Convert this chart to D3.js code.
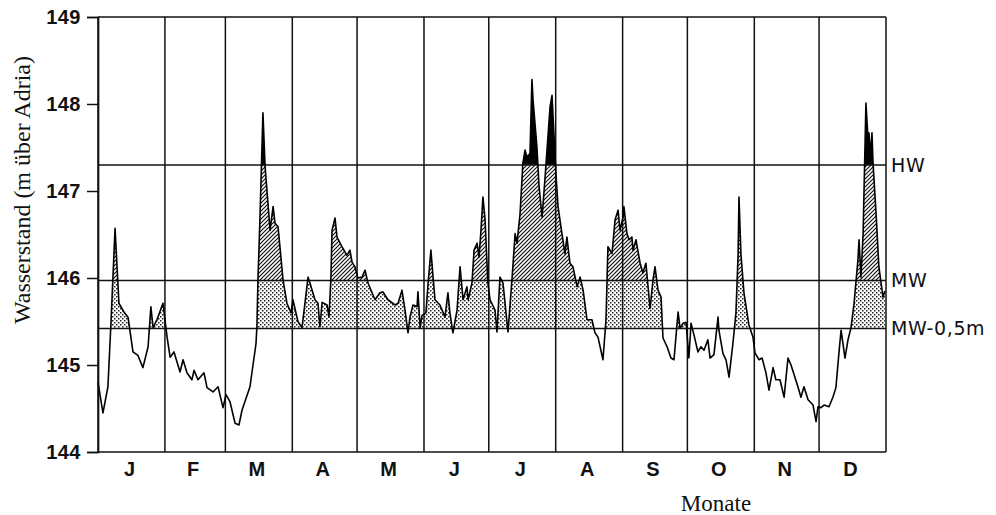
<!DOCTYPE html>
<html>
<head>
<meta charset="utf-8">
<script src="https://cdn.jsdelivr.net/npm/d3@7"></script>
<style>
  body { margin: 0; background: #fff; }
  svg { display: block; }
</style>
</head>
<body>
<div id="chart"></div>
<script>
// day of year (0..365) and water level (m above Adria)
const days = [
  0, 2.3, 4.6, 6.0, 7.9, 9.7, 12.0, 13.9, 16.2, 18.5, 20.8, 23.2, 24.5, 25.5, 27.3, 30.1,
  32.0, 33.4, 35.2, 38.0, 39.4, 41.2, 43.5, 44.5, 46.3, 49.1, 50.5, 53.3, 55.6, 57.9, 59.3,
  61.1, 63.5, 65.3, 66.7, 70.4, 73.2, 73.6, 74.1, 75.0, 76.4, 77.4, 79.7, 81.1, 82.0, 83.4,
  85.7, 87.5, 89.4, 90.3, 92.6, 94.5, 97.3, 98.2, 100.5, 101.9, 102.8, 103.8, 106.1, 107.0,
  107.9, 108.4, 109.8, 110.7, 113.0, 115.3, 116.7, 117.7, 119.0, 120.4, 122.3, 123.7, 125.1,
  128.3, 130.6, 132.0, 134.3, 137.6, 139.0, 140.8, 142.2, 143.6, 144.5, 145.9, 147.8, 148.2,
  149.2, 150.1, 151.9, 152.9, 154.2, 155.2, 156.1, 158.4, 160.7, 162.1, 163.0, 164.4, 166.3,
  167.7, 169.1, 170.9, 171.4, 173.2, 174.2, 175.6, 176.5, 177.4, 178.3, 179.3, 180.6, 181.6,
  183.9, 184.8, 186.2, 187.6, 189.0, 189.9, 191.8, 193.2, 194.1, 195.5, 196.8, 197.8, 198.7,
  200.1, 201.0, 201.5, 203.3, 204.3, 205.7, 207.0, 209.4, 210.3, 210.8, 212.1, 213.1, 214.9,
  216.3, 217.2, 218.6, 220.0, 221.9, 223.3, 224.7, 226.5, 228.8, 230.2, 231.6, 233.9, 235.3,
  236.2, 238.1, 239.5, 240.9, 241.8, 243.2, 243.6, 245.0, 246.0, 247.3, 247.8, 249.2, 251.1,
  252.4, 253.8, 255.7, 257.1, 258.0, 259.4, 260.8, 261.7, 263.6, 265.4, 266.8, 268.7, 269.6,
  271.0, 272.4, 273.7, 274.7, 276.1, 277.9, 279.3, 280.7, 282.5, 283.5, 285.3, 287.2, 287.6,
  289.5, 290.9, 292.3, 294.1, 295.5, 296.5, 296.9, 297.8, 299.2, 301.5, 303.4, 304.3, 306.2,
  307.6, 309.4, 310.8, 312.7, 314.0, 315.9, 317.8, 319.6, 321.0, 322.4, 324.2, 325.6, 327.0,
  328.9, 331.2, 332.6, 333.5, 334.9, 336.3, 338.6, 340.4, 341.8, 343.2, 344.2, 346.0, 347.4,
  348.8, 350.2, 352.0, 352.5, 353.4, 354.4, 355.7, 356.7, 357.1, 358.1, 358.5, 359.0, 360.4,
  361.7, 363.6, 364.5
];
const levels = [
  144.80, 144.45, 144.75, 145.48, 146.57, 145.71, 145.61, 145.55, 145.15, 145.11, 144.97, 145.21, 145.67, 145.43, 145.52, 145.71,
  145.32, 145.09, 145.15, 144.92, 145.06, 144.91, 144.83, 144.94, 144.83, 144.91, 144.74, 144.69, 144.75, 144.51, 144.66,
  144.58, 144.33, 144.31, 144.48, 144.75, 145.25, 145.44, 145.98, 146.67, 147.90, 147.28, 146.55, 146.82, 146.63, 146.59,
  145.98, 145.71, 145.60, 145.75, 145.50, 145.43, 146.01, 145.94, 145.75, 145.71, 145.44, 145.72, 145.69, 145.55,
  146.01, 146.55, 146.69, 146.47, 146.36, 146.26, 146.32, 146.18, 146.13, 146.00, 146.01, 146.09, 145.94,
  145.75, 145.83, 145.84, 145.75, 145.69, 145.71, 145.86, 145.63, 145.37, 145.55, 145.69, 145.67, 145.84,
  145.43, 145.57, 145.60, 145.94, 146.32, 146.01, 145.75, 145.69, 145.55, 145.83, 145.60, 145.37, 145.63,
  146.13, 145.75, 145.90, 145.75, 145.94, 146.32, 146.40, 146.24, 146.55, 146.93, 146.67, 145.94, 145.75,
  145.63, 145.38, 146.01, 145.94, 145.60, 145.38, 146.00, 146.51, 146.40, 146.74, 147.32, 147.47, 147.39,
  147.43, 148.28, 148.05, 147.51, 147.05, 146.70, 147.13, 147.97, 148.10, 147.85, 147.20, 146.82, 146.51,
  146.28, 146.47, 146.17, 146.13, 145.90, 146.01, 145.86, 145.52, 145.52, 145.37, 145.32, 145.06, 145.52,
  146.36, 146.28, 146.67, 146.78, 146.55, 146.70, 146.82, 146.51, 146.44, 146.47, 146.32, 146.44, 146.17,
  146.06, 146.17, 145.65, 145.98, 146.13, 145.86, 145.78, 145.31, 145.21, 145.08, 145.06, 145.61, 145.42,
  145.48, 145.49, 145.08, 145.48, 145.34, 145.15, 145.21, 145.17, 145.29, 145.08, 145.12, 145.55, 145.40,
  145.13, 145.06, 144.86, 145.25, 145.60, 146.28, 146.93, 146.28, 145.83, 145.46, 145.32, 145.14, 145.06,
  145.08, 144.91, 144.71, 144.97, 144.83, 144.83, 144.63, 145.08, 145.00, 144.89, 144.75, 144.63, 144.75,
  144.60, 144.54, 144.35, 144.52, 144.51, 144.54, 144.52, 144.63, 144.74, 145.14, 145.40, 145.08, 145.29,
  145.43, 145.71, 146.21, 146.44, 146.01, 146.51, 148.01, 147.59, 147.67, 147.41, 147.67, 147.32, 146.74,
  146.13, 145.78, 145.85
];

const monthStarts = [0, 31, 59, 90, 120, 151, 181, 212, 243, 273, 304, 334, 365];
const monthLabels = ["J", "F", "M", "A", "M", "J", "J", "A", "S", "O", "N", "D"];
const yTicks = [144, 145, 146, 147, 148, 149];
const refNames = ["HW", "MW", "MW-0,5m"];
const refValues = [147.30, 145.97, 145.42];

const data = days.map((d, i) => ({ day: d, level: levels[i] }));

const W = 996, H = 515;
const plot = { left: 98, right: 886, top: 17, bottom: 452 };

const svg = d3.select("#chart").append("svg")
  .attr("width", W)
  .attr("height", H);

const x = d3.scaleLinear().domain([0, 365]).range([plot.left, plot.right]);
const y = d3.scaleLinear().domain([144, 149]).range([plot.bottom, plot.top]);

const defs = svg.append("defs");

// stipple pattern
const dots = defs.append("pattern")
  .attr("id", "dots")
  .attr("patternUnits", "userSpaceOnUse")
  .attr("width", 4)
  .attr("height", 4);
dots.append("rect").attr("width", 4).attr("height", 4).attr("fill", "#fff");
dots.append("rect").attr("x", 0).attr("y", 0).attr("width", 1.5).attr("height", 1.5).attr("fill", "#222");
dots.append("rect").attr("x", 2).attr("y", 2).attr("width", 1.5).attr("height", 1.5).attr("fill", "#222");

// diagonal hatching
const hatch = defs.append("pattern")
  .attr("id", "hatch")
  .attr("patternUnits", "userSpaceOnUse")
  .attr("width", 4)
  .attr("height", 4);
hatch.append("rect").attr("width", 4).attr("height", 4).attr("fill", "#fff");
hatch.append("path")
  .attr("d", "M-1,1 l2,-2 M0,4 l4,-4 M3,5 l2,-2")
  .attr("stroke", "#111")
  .attr("stroke-width", 1.2);

const area = d3.area()
  .x(d => x(d.day))
  .y0(plot.bottom)
  .y1(d => y(d.level));

defs.append("clipPath")
  .attr("id", "under")
  .append("path")
  .datum(data)
  .attr("d", area);

const bands = svg.append("g").attr("clip-path", "url(#under)");
const [hw, mw, mw05] = refValues;

bands.append("rect")
  .attr("x", plot.left).attr("width", plot.right - plot.left)
  .attr("y", y(mw)).attr("height", y(mw05) - y(mw))
  .attr("fill", "url(#dots)");

bands.append("rect")
  .attr("x", plot.left).attr("width", plot.right - plot.left)
  .attr("y", y(hw)).attr("height", y(mw) - y(hw))
  .attr("fill", "url(#hatch)");

bands.append("rect")
  .attr("x", plot.left).attr("width", plot.right - plot.left)
  .attr("y", plot.top).attr("height", y(hw) - plot.top)
  .attr("fill", "#000");

// month lines
svg.append("g")
  .selectAll("line")
  .data(monthStarts)
  .join("line")
  .attr("x1", d => x(d)).attr("x2", d => x(d))
  .attr("y1", plot.top).attr("y2", plot.bottom)
  .attr("stroke", "#111")
  .attr("stroke-width", 1.5);

// frame top and bottom
svg.append("line")
  .attr("x1", plot.left).attr("x2", plot.right)
  .attr("y1", plot.top).attr("y2", plot.top)
  .attr("stroke", "#111").attr("stroke-width", 1.7);
svg.append("line")
  .attr("x1", plot.left).attr("x2", plot.right)
  .attr("y1", plot.bottom).attr("y2", plot.bottom)
  .attr("stroke", "#111").attr("stroke-width", 1.7);

// reference levels
svg.append("g")
  .selectAll("line")
  .data(refValues)
  .join("line")
  .attr("x1", plot.left).attr("x2", plot.right)
  .attr("y1", d => y(d)).attr("y2", d => y(d))
  .attr("stroke", "#111")
  .attr("stroke-width", 1.5);

svg.append("g")
  .selectAll("text")
  .data(refNames)
  .join("text")
  .attr("x", plot.right + 5)
  .attr("y", (d, i) => y(refValues[i]))
  .attr("dy", "0.36em")
  .style("font-family", "'DejaVu Sans', sans-serif")
  .style("font-size", "19px")
  .style("letter-spacing", "0.6px")
  .style("fill", "#111")
  .text(d => d);

// water level line
svg.append("path")
  .datum(data)
  .attr("fill", "none")
  .attr("stroke", "#000")
  .attr("stroke-width", 1.6)
  .attr("stroke-linejoin", "round")
  .attr("d", d3.line().x(d => x(d.day)).y(d => y(d.level)));

// y axis
const yAxis = svg.append("g")
  .attr("transform", `translate(${plot.left},0)`)
  .call(d3.axisLeft(y).tickValues(yTicks).tickSize(11).tickPadding(6).tickFormat(d3.format("d")));
yAxis.select(".domain").attr("stroke", "#111").attr("stroke-width", 1.7);
yAxis.selectAll(".tick line").attr("stroke", "#111").attr("stroke-width", 1.5);
yAxis.selectAll(".tick text")
  .style("font-family", "'Liberation Sans', Arial, sans-serif")
  .style("font-size", "20px")
  .style("font-weight", "bold")
  .style("letter-spacing", "0.5px")
  .style("fill", "#111");

// month labels
svg.append("g")
  .selectAll("text")
  .data(monthLabels)
  .join("text")
  .attr("x", (d, i) => x((monthStarts[i] + monthStarts[i + 1]) / 2) - 2)
  .attr("y", plot.bottom + 24)
  .attr("text-anchor", "middle")
  .style("font-family", "'Liberation Sans', Arial, sans-serif")
  .style("font-size", "20px")
  .style("font-weight", "bold")
  .style("fill", "#111")
  .text(d => d);

// axis titles
svg.append("text")
  .attr("transform", "translate(30,190) rotate(-90)")
  .attr("text-anchor", "middle")
  .style("font-family", "'Liberation Serif', serif")
  .style("font-size", "24px")
  .style("fill", "#111")
  .text("Wasserstand (m über Adria)");

svg.append("text")
  .attr("x", 716)
  .attr("y", 511)
  .attr("text-anchor", "middle")
  .style("font-family", "'Liberation Serif', serif")
  .style("font-size", "23px")
  .style("fill", "#111")
  .text("Monate");
</script>
</body>
</html>
